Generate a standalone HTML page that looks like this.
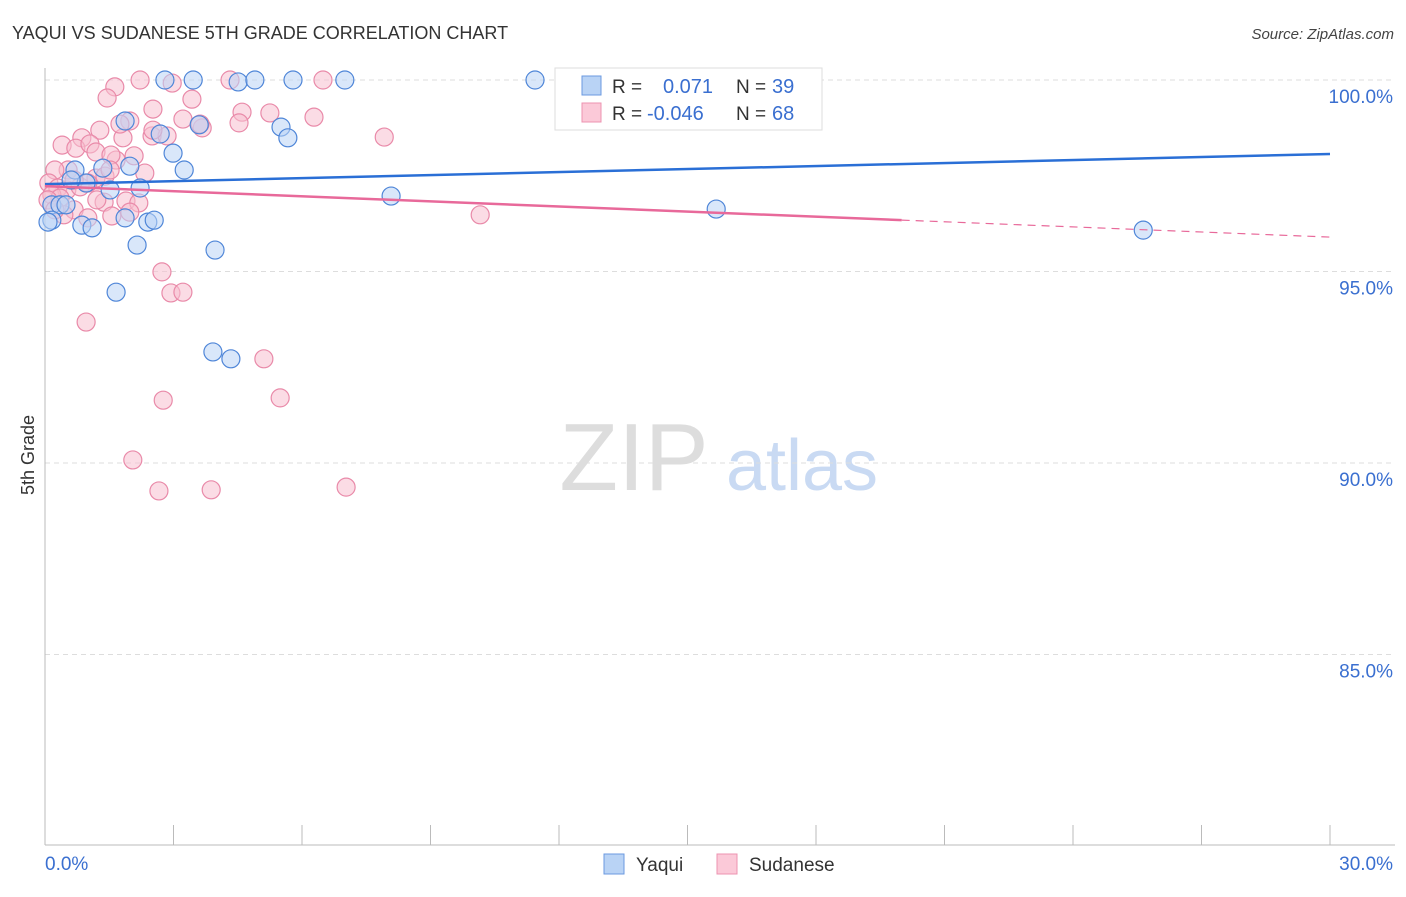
<!DOCTYPE html>
<html><head><meta charset="utf-8"><style>
body{margin:0;background:#fff;font-family:"Liberation Sans",sans-serif}
svg text{font-family:"Liberation Sans",sans-serif}
</style></head><body>
<svg id="chart" width="1406" height="892" viewBox="0 0 1406 892" xmlns="http://www.w3.org/2000/svg">
<text x="12" y="39" font-size="18" fill="#333">YAQUI VS SUDANESE 5TH GRADE CORRELATION CHART</text>
<text x="1394" y="39" font-size="15" fill="#444" text-anchor="end" font-style="italic">Source: ZipAtlas.com</text>
<g>
<text x="634" y="490" font-size="96" fill="#ddd" text-anchor="middle" font-family="Liberation Serif,serif">ZIP</text>
<text x="802" y="490" font-size="72" fill="#c9daf3" text-anchor="middle">atlas</text>
</g>
<g id="grid"></g>
<g id="axes"></g>
<g id="marks"></g>
<g id="lines"></g>
<text transform="translate(34,455) rotate(-90)" font-size="18" fill="#333" text-anchor="middle">5th Grade</text>
<g>
<rect x="555" y="68" width="267" height="62" fill="#fff" stroke="#ddd"/>
<rect x="582" y="76" width="19" height="19" fill="#b9d3f5" stroke="#6b9ae0"/>
<rect x="582" y="103" width="19" height="19" fill="#fbc9d8" stroke="#ec93b0"/>
<text x="612" y="93" font-size="19" fill="#333">R =</text>
<text x="663" y="93" font-size="20" fill="#3a6fd0">0.071</text>
<text x="736" y="93" font-size="19" fill="#333">N =</text>
<text x="772" y="93" font-size="20" fill="#3a6fd0">39</text>
<text x="612" y="120" font-size="19" fill="#333">R =</text>
<text x="647" y="120" font-size="20" fill="#3a6fd0">-0.046</text>
<text x="736" y="120" font-size="19" fill="#333">N =</text>
<text x="772" y="120" font-size="20" fill="#3a6fd0">68</text>
</g>
<g>
<rect x="604" y="854" width="20" height="20" fill="#b9d3f5" stroke="#6b9ae0"/>
<text x="636" y="871" font-size="19" fill="#333">Yaqui</text>
<rect x="717" y="854" width="20" height="20" fill="#fbc9d8" stroke="#ec93b0"/>
<text x="749" y="871" font-size="19" fill="#333">Sudanese</text>
</g>
</svg>
<script>
const yTicks=[100,95,90,85];
const yTickLabels=["100.0%","95.0%","90.0%","85.0%"];
const xTickLabels=["0.0%","30.0%"];
const yaquiX=[2.80,3.46,4.51,4.90,5.79,7.00,11.44,1.87,3.60,5.51,5.67,2.69,2.99,3.25,1.98,0.70,1.35,2.22,1.52,0.96,0.61,0.16,0.35,0.49,0.16,0.07,0.86,1.10,1.87,2.40,2.55,2.15,3.97,1.66,3.92,4.34,8.08,15.67,25.64];
const yaquiY=[100,100,99.95,100,100,100,100,98.93,98.83,98.77,98.49,98.59,98.09,97.65,97.75,97.65,97.70,97.18,97.13,97.31,97.39,96.74,96.74,96.74,96.34,96.29,96.21,96.14,96.40,96.29,96.34,95.69,95.56,94.46,92.90,92.72,96.97,96.63,96.08];
const sudX=[2.22,2.97,4.32,6.49,1.63,1.45,3.43,2.52,4.60,5.25,6.28,4.53,3.22,3.67,1.98,1.82,2.50,2.85,7.92,1.28,0.86,0.40,0.72,1.05,1.19,1.66,1.54,2.33,0.54,0.23,1.19,1.40,0.09,0.30,0.51,0.82,1.00,0.16,0.35,0.07,1.38,1.89,2.19,0.68,0.44,1.00,1.56,1.98,2.73,2.94,3.22,0.96,5.11,5.49,2.76,2.05,2.66,3.88,7.03,10.16,0.23,1.21,1.75,2.52,3.62,1.52,0.68,2.08];
const sudY=[100,99.92,100,100,99.82,99.53,99.50,99.24,99.16,99.14,99.03,98.88,98.98,98.75,98.93,98.49,98.54,98.54,98.51,98.69,98.49,98.30,98.22,98.33,98.12,97.91,98.04,97.57,97.65,97.65,97.44,97.49,97.31,97.18,97.13,97.21,97.31,97.00,96.92,96.87,96.81,96.84,96.79,96.61,96.48,96.40,96.45,96.55,94.99,94.44,94.46,93.68,92.72,91.70,91.64,90.08,89.27,89.30,89.37,96.48,96.61,96.87,98.85,98.69,98.85,97.65,97.39,98.02];
const trendIntercept=[97.28,97.23];
const trendSlope=[0.0263,-0.0444];
const NS="http://www.w3.org/2000/svg";
const x=v=>45+v/30*1285;
const y=v=>80+(100-v)*38.3;
function mk(t,a,p){const e=document.createElementNS(NS,t);for(const k in a)e.setAttribute(k,a[k]);document.getElementById(p).appendChild(e);return e;}
yTicks.forEach((t,i)=>{
 const g=mk('line',{x1:45,x2:1395,y1:y(t),y2:y(t),stroke:'#ddd','stroke-dasharray':'5,4'},'grid');
 
 
 const l=mk('text',{x:1393,y:y(t)+23,'font-size':19,fill:'#3a6fd0','text-anchor':'end'},'axes');
 l.textContent=yTickLabels[i];
 
 
});
const ax=mk('line',{x1:45,x2:45,y1:68,y2:845,stroke:'#bbb'},'axes');


const bx=mk('line',{x1:45,x2:1395,y1:845,y2:845,stroke:'#bbb'},'axes');


for(let i=1;i<=10;i++){
 const t=mk('line',{x1:x(i*3),x2:x(i*3),y1:825,y2:845,stroke:'#bbb'},'axes');
 
 
}
[[0,'start'],[30,'end']].forEach((d,i)=>{
 const t=mk('text',{x:i?1393:45,y:870,'font-size':19,fill:'#3a6fd0','text-anchor':d[1]},'axes');
 t.textContent=xTickLabels[i];
 
 
});
function pts(X,Y,f,s,name){X.forEach((v,i)=>{
 const c=mk('circle',{cx:x(v),cy:y(Y[i]),r:9,fill:f,'fill-opacity':0.55,stroke:s,'stroke-width':1.2},'marks');
 
 
});}
pts(sudX,sudY,'#f8bfd0','#e98aa9','sudanese-point');
pts(yaquiX,yaquiY,'#b9d3f5','#4f86d8','yaqui-point');
const b=mk('line',{x1:x(0),y1:y(trendIntercept[0]),x2:x(30),y2:y(trendIntercept[0]+trendSlope[0]*30),stroke:'#2a6fd6','stroke-width':2.5},'lines');


const p=mk('line',{x1:x(0),y1:y(trendIntercept[1]),x2:x(20),y2:y(trendIntercept[1]+trendSlope[1]*20),stroke:'#e8699a','stroke-width':2.5},'lines');


const pd=mk('line',{x1:x(20),y1:y(trendIntercept[1]+trendSlope[1]*20),x2:x(30),y2:y(trendIntercept[1]+trendSlope[1]*30),stroke:'#e8699a','stroke-width':1.2,'stroke-dasharray':'8,6'},'lines');


</script>
</body></html>
